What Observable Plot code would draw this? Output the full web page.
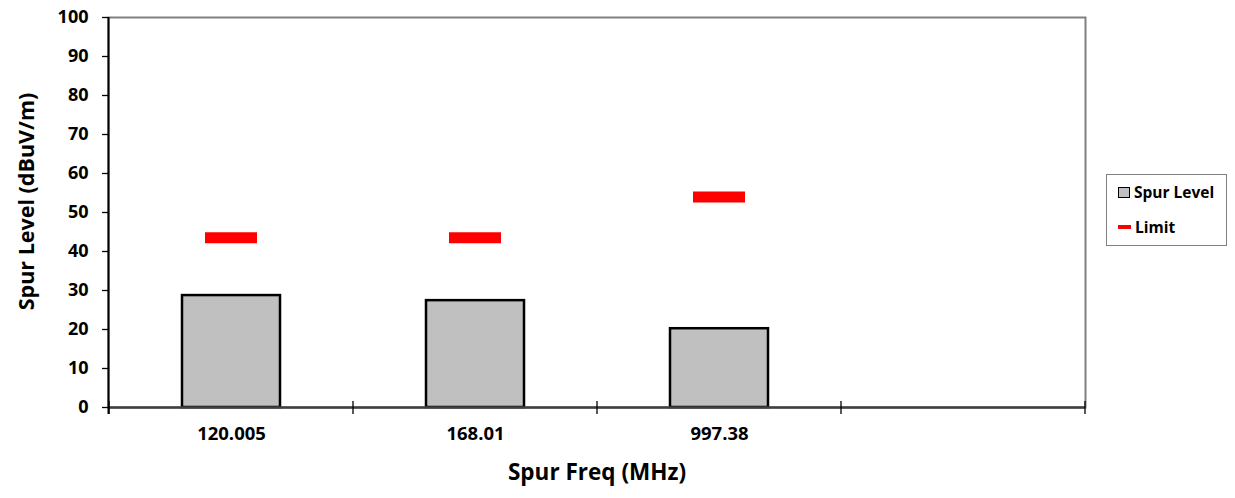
<!DOCTYPE html>
<html>
<head>
<meta charset="utf-8">
<script src="https://cdn.jsdelivr.net/npm/d3@7"></script>
<script src="https://cdn.jsdelivr.net/npm/@observablehq/plot@0.6"></script>
<style>
  body { margin: 0; background: #fff; }
  #wrap { position: relative; width: 1235px; height: 498px; font-family: "Open Sans", sans-serif; font-weight: bold; }
  #legend { position: absolute; left: 1106px; top: 174px; width: 119px; height: 70px; border: 1.5px solid #808080; background: #fff; font-size: 15.5px; color: #000; }
  .item { position: absolute; left: 11px; display: flex; align-items: center; }
  .sw-bar { width: 10px; height: 9px; background: #c0c0c0; border: 1.5px solid #000; margin-right: 4px; }
  .sw-lim { width: 13px; height: 4px; background: #ff0000; margin-right: 4px; }
</style>
</head>
<body>
<div id="wrap"></div>
<script>
const categories = ["120.005", "168.01", "997.38", ""];
const spurLevel = [28.7, 27.4, 20.2];
const limitLevel = [43.5, 43.5, 54.0];
const yTicks = [0, 10, 20, 30, 40, 50, 60, 70, 80, 90, 100];
const xTitle = "Spur Freq (MHz)";
const yTitle = "Spur Level (dBuV/m)";
const seriesNames = ["Spur Level", "Limit"];

const data = spurLevel.map((v, i) => ({freq: categories[i], level: v, limit: limitLevel[i]}));

function boundaryMark(index, scales, values, dimensions) {
  const x = scales.x, y = scales.y;
  const ns = "http://www.w3.org/2000/svg";
  const g = document.createElementNS(ns, "g");
  const xs = categories.map(c => x(c));
  const step = xs[1] - xs[0];
  const bw = typeof x.bandwidth === "function" ? x.bandwidth() : step * 0.4;
  const bounds = categories.map((c, i) => xs[i] - (step - bw) / 2);
  bounds.push(bounds[bounds.length - 1] + step);
  const y0 = y(0);
  for (const b of bounds) {
    const l = document.createElementNS(ns, "line");
    l.setAttribute("x1", b); l.setAttribute("x2", b);
    l.setAttribute("y1", y0 - 6); l.setAttribute("y2", y0 + 7);
    l.setAttribute("stroke", "#000"); l.setAttribute("stroke-width", 1.3);
    g.appendChild(l);
  }
  const left = dimensions.marginLeft;
  const la = document.createElementNS(ns, "line");
  la.setAttribute("x1", left + 0.5); la.setAttribute("x2", left + 0.5);
  la.setAttribute("y1", y(100)); la.setAttribute("y2", y0 + 7);
  la.setAttribute("stroke", "#000"); la.setAttribute("stroke-width", 2);
  g.appendChild(la);
  return g;
}

const chart = Plot.plot({
  width: 1235,
  height: 498,
  marginLeft: 108,
  marginRight: 150,
  marginTop: 17,
  marginBottom: 91,
  style: {fontFamily: "'Open Sans', sans-serif", fontWeight: "bold", color: "#000", background: "#fff"},
  x: {domain: categories, paddingInner: 0.6, paddingOuter: 0.3, axis: null},
  y: {domain: [0, 100], axis: null},
  marks: [
    Plot.frame({stroke: "#808080", strokeWidth: 2}),
    Plot.barY(data, {x: "freq", y: "level", fill: "#c0c0c0", stroke: "#000", strokeWidth: 2.5}),
    Plot.ruleY([0], {stroke: "#404040", strokeWidth: 2.5}),
    Plot.tickY(data, {x: "freq", y: "limit", stroke: "#ff0000", strokeWidth: 11, insetLeft: 23, insetRight: 23}),
    boundaryMark,
    Plot.axisY({ticks: yTicks, tickSize: 6, tickPadding: 14, label: null, fontSize: 18, fontWeight: "bold", stroke: "#000", strokeWidth: 1.3}),
    Plot.axisX({tickSize: 0, tickPadding: 19, label: null, fontSize: 18.5, fontWeight: "bold"}),
    Plot.text([xTitle], {frameAnchor: "bottom", dy: 72, fontSize: 22.5, fontWeight: "bold", fill: "#000"}),
    Plot.text([yTitle], {frameAnchor: "left", textAnchor: "middle", dx: -81, dy: -11, rotate: -90, fontSize: 21.5, fontWeight: "bold", fill: "#000"})
  ]
});

const wrap = document.getElementById("wrap");
wrap.appendChild(chart);
const legend = document.createElement("div");
legend.id = "legend";
legend.innerHTML =
  `<div class="item" style="top:6px"><span class="sw-bar"></span><span>${seriesNames[0]}</span></div>` +
  `<div class="item" style="top:41px"><span class="sw-lim"></span><span>${seriesNames[1]}</span></div>`;
wrap.appendChild(legend);
</script>
</body>
</html>
